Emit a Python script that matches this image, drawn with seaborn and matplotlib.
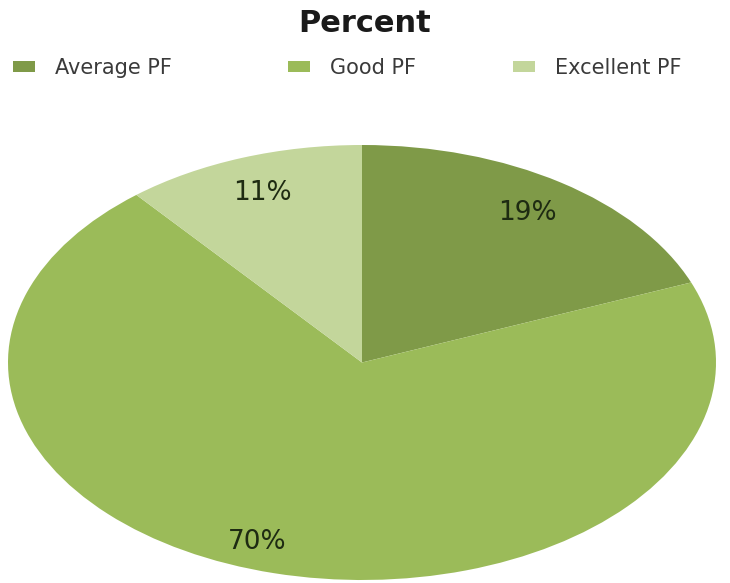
import matplotlib
matplotlib.use("Agg")
import matplotlib.pyplot as plt
import seaborn as sns
from matplotlib.patches import Patch

categories = ["Average PF", "Good PF", "Excellent PF"]
values = [19, 70, 11]
colors = ["#7F9A48", "#9BBB59", "#C3D69B"]

sns.set_theme(style="white")
plt.rcParams["font.family"] = ["DejaVu Sans"]

fig = plt.figure(figsize=(7.3, 5.83), dpi=100)
ax = fig.add_axes([8/730, 3/583, 708/730, 435/583])
wedges, texts, autotexts = ax.pie(
    values, colors=colors, startangle=90, counterclock=False,
    autopct=lambda p: f"{p:.0f}%", pctdistance=0.83,
    textprops=dict(fontsize=19, color="#1e2b12"),
    wedgeprops=dict(linewidth=0),
)
ax.set_aspect("auto")
ax.set_xlim(-1, 1)
ax.set_ylim(-1, 1)
ax.axis("off")
# Excel-style placement nudge for the large slice label
x70, y70 = autotexts[1].get_position()
autotexts[1].set_position((x70 - 0.09, y70 - 0.02))

fig.text(365/730, 1 - 23/583, "Percent", ha="center", va="center",
         fontsize=22, fontweight="bold", color="#1a1a1a")

starts = [13, 288, 513]
for cat, col, x0 in zip(categories, colors, starts):
    fig.legend([Patch(facecolor=col, edgecolor="none")], [cat],
               loc="center left", bbox_to_anchor=(x0/730, 1 - 68/583),
               frameon=False, fontsize=15, borderpad=0, borderaxespad=0,
               handlelength=1.05, handleheight=0.45, handletextpad=0.95,
               labelcolor="#3a3a3a")

fig.savefig("out.png", dpi=100, facecolor="white")
